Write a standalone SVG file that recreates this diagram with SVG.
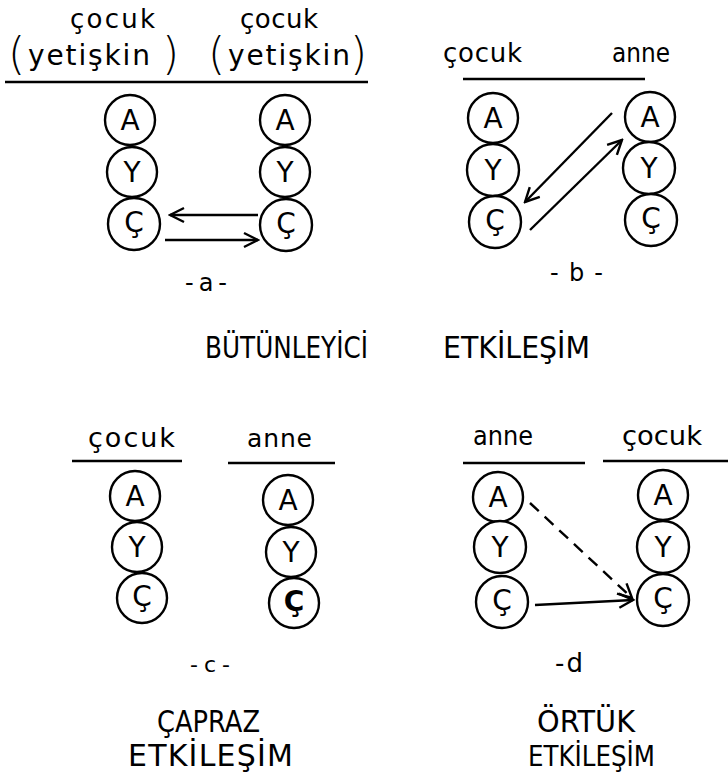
<svg xmlns="http://www.w3.org/2000/svg" width="728" height="774" viewBox="0 0 728 774">
<defs>
<style>
text{font-family:"DejaVu Sans","Liberation Sans",sans-serif;fill:#000}
.cl{font-size:28px;text-anchor:middle;dominant-baseline:central}
.par{font-size:44px;font-weight:300}
circle{fill:#fff;stroke:#000;stroke-width:2.4}
.rule{stroke:#000;stroke-width:2.4}
.arr{stroke:#000;stroke-width:2.4;fill:none;marker-end:url(#ah)}
.dash{stroke-dasharray:12 8}
</style>
<marker id="ah" viewBox="0 0 18 18" refX="16" refY="9" markerWidth="18" markerHeight="18" markerUnits="userSpaceOnUse" orient="auto">
<path d="M2,2 L16,9 L2,16" fill="none" stroke="#000" stroke-width="2.4"/>
</marker>
</defs>
<rect width="728" height="774" fill="#fff"/>

<g id="labels">
<text x="70" y="28" font-size="26" textLength="85" lengthAdjust="spacing">çocuk</text>
<text class="par" x="8" y="69">(</text>
<text x="28" y="65" font-size="28" textLength="122" lengthAdjust="spacing">yetişkin</text>
<text class="par" x="162" y="69">)</text>
<text x="240" y="28" font-size="26" textLength="78" lengthAdjust="spacing">çocuk</text>
<text class="par" x="208" y="69">(</text>
<text x="228" y="65" font-size="28" textLength="122" lengthAdjust="spacing">yetişkin</text>
<text class="par" x="350" y="69">)</text>
<text x="443" y="62" font-size="26" textLength="79" lengthAdjust="spacing">çocuk</text>
<text x="612" y="62" font-size="26" textLength="58" lengthAdjust="spacingAndGlyphs">anne</text>
<text x="88" y="447" font-size="27" textLength="87" lengthAdjust="spacing">çocuk</text>
<text x="247" y="447" font-size="25" textLength="65" lengthAdjust="spacing">anne</text>
<text x="473" y="445" font-size="26" textLength="60" lengthAdjust="spacingAndGlyphs">anne</text>
<text x="622" y="445" font-size="27" textLength="80" lengthAdjust="spacingAndGlyphs">çocuk</text>
<text x="185" y="291" font-size="24" textLength="42" lengthAdjust="spacing">-a-</text>
<text x="550" y="281" font-size="24" textLength="53" lengthAdjust="spacing">-b-</text>
<text x="190" y="672" font-size="22" textLength="40" lengthAdjust="spacing">-c-</text>
<text x="555" y="672" font-size="26" textLength="28" lengthAdjust="spacing">-d</text>
<text x="205" y="358" font-size="30" textLength="163" lengthAdjust="spacingAndGlyphs">BÜTÜNLEYİCİ</text>
<text x="443" y="358" font-size="30" textLength="147" lengthAdjust="spacingAndGlyphs">ETKİLEŞİM</text>
<text x="157" y="732" font-size="31" textLength="103" lengthAdjust="spacingAndGlyphs">ÇAPRAZ</text>
<text x="128" y="766" font-size="30" textLength="165" lengthAdjust="spacing">ETKİLEŞİM</text>
<text x="537" y="732" font-size="30" textLength="98" lengthAdjust="spacingAndGlyphs">ÖRTÜK</text>
<text x="528" y="766" font-size="28" textLength="127" lengthAdjust="spacingAndGlyphs">ETKİLEŞİM</text>
</g>

<g id="rules">
<line class="rule" x1="5" y1="82" x2="368" y2="82"/>
<line class="rule" x1="463" y1="79" x2="645" y2="79"/>
<line class="rule" x1="72" y1="461" x2="182" y2="461"/>
<line class="rule" x1="228" y1="463" x2="335" y2="463"/>
<line class="rule" x1="463" y1="463" x2="585" y2="463"/>
<line class="rule" x1="603" y1="461" x2="728" y2="461"/>
</g>

<g id="a-left">
<circle cx="130" cy="120" r="25"/><text class="cl" x="130" y="120">A</text>
<circle cx="132" cy="172" r="25"/><text class="cl" x="132" y="172">Y</text>
<circle cx="134" cy="224" r="26"/><text class="cl" x="134" y="222">Ç</text>
</g>
<g id="a-right">
<circle cx="285" cy="120" r="25"/><text class="cl" x="285" y="120">A</text>
<circle cx="285" cy="172" r="25"/><text class="cl" x="285" y="172">Y</text>
<circle cx="286" cy="225" r="26"/><text class="cl" x="286" y="223">Ç</text>
</g>
<g id="b-left">
<circle cx="493" cy="118" r="25"/><text class="cl" x="493" y="118">A</text>
<circle cx="493" cy="170" r="26"/><text class="cl" x="493" y="170">Y</text>
<circle cx="495" cy="222" r="26"/><text class="cl" x="495" y="220">Ç</text>
</g>
<g id="b-right">
<circle cx="650" cy="117" r="25"/><text class="cl" x="650" y="117">A</text>
<circle cx="649" cy="168" r="26"/><text class="cl" x="649" y="168">Y</text>
<circle cx="651" cy="220" r="26"/><text class="cl" x="651" y="218">Ç</text>
</g>
<g id="c-left">
<circle cx="135" cy="496" r="25"/><text class="cl" x="135" y="496">A</text>
<circle cx="137" cy="547" r="25"/><text class="cl" x="137" y="547">Y</text>
<circle cx="142" cy="598" r="25"/><text class="cl" x="142" y="596">Ç</text>
</g>
<g id="c-right">
<circle cx="288" cy="500" r="25"/><text class="cl" x="288" y="500">A</text>
<circle cx="291" cy="552" r="25"/><text class="cl" x="291" y="552">Y</text>
<circle cx="294" cy="603" r="25"/><text class="cl" x="294" y="601" font-weight="bold">Ç</text>
</g>
<g id="d-left">
<circle cx="498" cy="497" r="25"/><text class="cl" x="498" y="497">A</text>
<circle cx="500" cy="547" r="26"/><text class="cl" x="500" y="547">Y</text>
<circle cx="502" cy="602" r="26"/><text class="cl" x="502" y="600">Ç</text>
</g>
<g id="d-right">
<circle cx="663" cy="495" r="25"/><text class="cl" x="663" y="495">A</text>
<circle cx="663" cy="547" r="26"/><text class="cl" x="663" y="547">Y</text>
<circle cx="663" cy="600" r="26"/><text class="cl" x="663" y="598">Ç</text>
</g>

<g id="connectors">
<line class="arr" x1="258" y1="215" x2="170" y2="215"/>
<line class="arr" x1="165" y1="240" x2="258" y2="240"/>
<line class="arr" x1="612" y1="113" x2="525" y2="202"/>
<line class="arr" x1="530" y1="230" x2="622" y2="140"/>
<line class="arr dash" x1="530" y1="503" x2="632" y2="598"/>
<line class="arr" x1="535" y1="605" x2="633" y2="600"/>
</g>
</svg>
